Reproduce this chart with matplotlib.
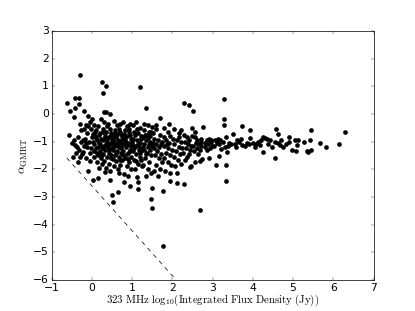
import numpy as np
import matplotlib
matplotlib.use('Agg')
import matplotlib.pyplot as plt

flux_pts = [
    # x < -0.25
    (-0.63, 0.38), (-0.42, 0.58), (-0.32, 0.58), (-0.33, 0.35), (-0.42, 0.22), (-0.54, 0.11),
    (-0.29, 1.39), (-0.46, -0.13), (-0.58, -0.78), (-0.46, -0.96), (-0.43, -1.14), (-0.38, -1.21),
    (-0.29, -0.35), (-0.50, -1.05), (-0.35, -0.85), (-0.28, -0.60), (-0.40, -1.40), (-0.32, -1.30),
    (-0.27, -1.00), (-0.30, -1.55), (-0.47, -1.57), (-0.36, -1.75),
    # -0.25 .. 0
    (-0.19, 0.10), (-0.11, -0.08), (-0.17, -0.90), (-0.25, -1.45), (-0.22, -1.38), (-0.09, -2.06),
    (-0.20, -0.55), (-0.15, -0.40), (-0.05, -0.30), (-0.12, -0.70), (-0.08, -1.00), (-0.20, -1.15),
    (-0.03, -1.25), (-0.15, -1.60), (-0.05, -1.70), (-0.10, -0.45), (0.00, -0.85), (-0.02, -0.55),
    (-0.22, -0.95), (-0.12, -1.20),
    # 0 .. 0.25
    (0.01, -0.17), (0.23, -0.20), (0.03, -2.39), (0.15, -2.30), (0.25, -1.81), (0.05, -0.40),
    (0.10, -0.60), (0.15, -0.45), (0.20, -0.70), (0.08, -0.80), (0.12, -0.95), (0.18, -1.05),
    (0.22, -0.90), (0.05, -1.10), (0.10, -1.25), (0.20, -1.35), (0.15, -1.50), (0.05, -1.55),
    (0.22, -1.60), (0.12, -1.75), (0.18, -1.95), (0.02, -1.00), (0.24, -1.20), (0.16, -0.75),
    (0.07, -0.65), (0.20, -1.10), (0.13, -1.40),
    # 0.25 .. 0.5
    (0.25, 1.15), (0.35, 1.02), (0.27, 0.77), (0.29, 0.07), (0.35, 0.05), (0.45, -0.02),
    (0.45, -2.39), (0.49, -2.95), (0.53, -3.18), (0.30, -0.30), (0.40, -0.35), (0.28, -0.55),
    (0.35, -0.65), (0.45, -0.55), (0.32, -0.80), (0.42, -0.85), (0.48, -0.75), (0.27, -0.95),
    (0.38, -1.00), (0.47, -1.05), (0.30, -1.15), (0.40, -1.20), (0.50, -1.25), (0.33, -1.30),
    (0.43, -1.40), (0.28, -1.45), (0.37, -1.55), (0.47, -1.60), (0.30, -1.70), (0.42, -1.80),
    (0.35, -1.95), (0.45, -2.05), (0.38, -0.90), (0.27, -1.25), (0.44, -1.10), (0.36, -0.45),
    (0.49, -0.95), (0.31, -2.10),
    # 0.5 .. 0.75
    (0.65, -2.81), (0.66, -2.12), (0.55, -0.25), (0.62, -0.40), (0.70, -0.35), (0.58, -0.60),
    (0.68, -0.55), (0.52, -0.80), (0.60, -0.85), (0.72, -0.75), (0.55, -1.00), (0.65, -0.95),
    (0.73, -1.05), (0.58, -1.15), (0.68, -1.20), (0.52, -1.30), (0.62, -1.35), (0.72, -1.40),
    (0.56, -1.50), (0.66, -1.55), (0.74, -1.65), (0.60, -1.70), (0.70, -1.85), (0.55, -1.90),
    (0.64, -2.00), (0.72, -1.25), (0.63, -1.08), (0.57, -0.70), (0.70, -0.65), (0.53, -1.62),
    (0.75, -0.90),
    # 0.75 .. 1.0
    (0.80, -2.48), (0.79, -2.18), (0.94, -2.60), (0.78, -0.30), (0.88, -0.45), (0.95, -0.35),
    (0.82, -0.60), (0.92, -0.65), (0.77, -0.85), (0.87, -0.80), (0.97, -0.90), (0.80, -1.00),
    (0.90, -1.05), (0.98, -1.15), (0.84, -1.20), (0.94, -1.30), (0.78, -1.35), (0.88, -1.45),
    (0.96, -1.55), (0.82, -1.60), (0.92, -1.75), (0.86, -1.90), (0.98, -2.00), (0.76, -1.10),
    (0.93, -0.55), (0.85, -1.00), (0.90, -2.25),
    # 1.0 .. 1.25
    (1.18, 0.98), (1.15, -2.72), (1.13, -2.48), (1.11, -2.28), (1.02, -0.40), (1.10, -0.30),
    (1.20, -0.50), (1.05, -0.65), (1.15, -0.70), (1.22, -0.80), (1.03, -0.90), (1.12, -0.95),
    (1.20, -1.05), (1.07, -1.15), (1.17, -1.20), (1.24, -1.30), (1.02, -1.35), (1.10, -1.45),
    (1.20, -1.55), (1.05, -1.65), (1.15, -1.80), (1.23, -1.90), (1.08, -2.00), (1.18, -1.40),
    (1.12, -0.55), (1.00, -1.10), (1.22, -1.65),
    # 1.25 .. 1.5
    (1.35, 0.20), (1.49, -0.48), (1.41, -0.66), (1.46, -3.09), (1.50, -3.40), (1.48, -2.67),
    (1.28, -0.35), (1.38, -0.40), (1.30, -0.60), (1.45, -0.80), (1.27, -0.85), (1.35, -0.95),
    (1.43, -1.00), (1.30, -1.10), (1.40, -1.20), (1.48, -1.15), (1.28, -1.30), (1.37, -1.40),
    (1.46, -1.50), (1.32, -1.60), (1.42, -1.75), (1.27, -1.85), (1.38, -2.00), (1.47, -2.15),
    (1.33, -2.25), (1.44, -1.30), (1.36, -0.75),
    # 1.5 .. 1.75
    (1.70, -0.15), (1.52, -0.70), (1.60, -0.55), (1.68, -0.75), (1.55, -0.90), (1.65, -0.95),
    (1.73, -1.00), (1.58, -1.10), (1.67, -1.20), (1.53, -1.25), (1.62, -1.35), (1.72, -1.45),
    (1.57, -1.50), (1.66, -1.60), (1.74, -1.75), (1.60, -1.85), (1.70, -2.00), (1.55, -2.05),
    (1.65, -2.25), (1.58, -0.40), (1.72, -1.10),
    # 1.75 .. 2.0
    (1.76, -2.79), (1.76, -4.76), (1.94, -2.42), (1.91, -0.35), (1.80, -0.50), (1.88, -0.65),
    (1.95, -0.80), (1.78, -0.85), (1.85, -0.95), (1.92, -1.05), (1.80, -1.15), (1.90, -1.25),
    (1.98, -1.30), (1.83, -1.40), (1.93, -1.50), (1.78, -1.60), (1.88, -1.75), (1.97, -1.85),
    (1.82, -2.05), (1.95, -2.15), (1.86, -1.10),
    # 2.0 .. 2.25
    (2.11, -2.51), (2.12, -2.12), (2.05, -0.55), (2.15, -0.70), (2.22, -0.60), (2.02, -0.90),
    (2.10, -0.95), (2.20, -1.00), (2.05, -1.10), (2.15, -1.20), (2.23, -1.25), (2.08, -1.35),
    (2.18, -1.45), (2.03, -1.55), (2.13, -1.65), (2.21, -1.80), (2.06, -1.90), (2.17, -0.85),
    # 2.25 .. 2.5
    (2.29, 0.39), (2.41, 0.32), (2.50, 0.10), (2.29, -2.52), (2.44, -1.91), (2.41, -1.45),
    (2.45, -1.87), (2.49, -0.50), (2.28, -0.75), (2.35, -0.85), (2.42, -0.95), (2.30, -1.00),
    (2.38, -1.10), (2.47, -1.15), (2.33, -1.25), (2.43, -1.30), (2.27, -1.40), (2.36, -1.55),
    (2.48, -0.80), (2.32, -1.65),
    # 2.5 .. 2.75
    (2.69, -3.47), (2.69, -1.72), (2.57, -1.75), (2.74, -1.63), (2.57, -0.66), (2.76, -0.48),
    (2.55, -0.85), (2.62, -0.95), (2.70, -0.90), (2.58, -1.05), (2.66, -1.10), (2.72, -1.15),
    (2.60, -1.25), (2.68, -1.30), (2.54, -1.35), (2.64, -1.45), (2.70, -1.00), (2.52, -1.15),
    # 2.75 .. 3.0
    (2.85, -0.96), (2.92, -1.61), (2.80, -1.20), (2.90, -0.90), (2.95, -1.00), (2.88, -1.10),
    (2.98, -1.15), (2.82, -1.05), (2.93, -1.25), (2.86, -1.30), (2.97, -0.95),
    # 3.0 .. 3.5
    (3.29, 0.55), (3.28, -0.20), (3.28, -0.41), (3.08, -1.83), (3.16, -1.51), (3.33, -1.84),
    (3.33, -2.42), (3.36, -1.36), (3.32, -0.84), (3.50, -0.74), (3.05, -0.96), (3.21, -1.28),
    (3.10, -1.05), (3.15, -1.10), (3.03, -1.15), (3.12, -0.90), (3.40, -1.05), (3.45, -1.10),
    (3.38, -1.15), (3.25, -1.00), (3.30, -1.20), (3.18, -0.95),
    # 3.5 .. 4.0
    (3.60, -0.94), (3.74, -0.45), (3.93, -0.60), (3.74, -1.11), (3.85, -1.05), (3.93, -0.86),
    (4.00, -1.06), (3.65, -1.00), (3.55, -1.10), (3.80, -1.15), (3.70, -0.90), (3.90, -1.10),
    (3.58, -1.20),
    # 4.0 .. 4.5
    (4.08, -1.08), (4.18, -1.11), (4.25, -0.82), (4.25, -1.39), (4.30, -0.88), (4.35, -0.92),
    (4.42, -0.95), (4.47, -1.18), (4.12, -1.00), (4.20, -0.95), (4.38, -1.10), (4.05, -1.20),
    # 4.5 .. 5.0
    (4.57, -0.56), (4.63, -0.74), (4.90, -0.82), (4.56, -1.61), (4.68, -1.14), (4.76, -1.18),
    (4.91, -1.02), (4.97, -1.30), (4.55, -1.00), (4.62, -1.05), (4.82, -1.10), (4.70, -0.95),
    # 5.0 .. 5.5
    (5.05, -0.96), (5.06, -1.33), (5.10, -1.14), (5.27, -1.02), (5.37, -1.39), (5.45, -1.29),
    (5.43, -0.94), (5.45, -0.57), (5.11, -0.94), (5.34, -1.33),
    # > 5.5
    (5.68, -1.06), (5.83, -1.21), (6.14, -1.08), (6.28, -0.67),
    # extra sources in the crowded core (0 .. 1.5)
    (0.03, -0.72), (0.09, -0.88), (0.14, -1.18), (0.19, -1.45), (0.26, -0.65), (0.31, -0.88),
    (0.34, -1.08), (0.41, -1.32), (0.46, -0.68), (0.51, -0.95), (0.54, -1.12), (0.59, -1.42),
    (0.61, -0.72), (0.67, -1.02), (0.71, -1.15), (0.76, -1.48), (0.79, -0.72), (0.83, -0.92),
    (0.86, -1.12), (0.91, -1.38), (0.95, -0.78), (0.99, -1.02), (1.04, -1.25), (1.08, -0.78),
    (1.13, -1.08), (1.16, -1.32), (1.21, -0.92), (1.26, -1.18), (1.31, -0.78), (1.33, -1.45),
    (1.39, -0.88), (1.42, -1.08), (1.47, -0.65), (1.52, -1.05), (-0.05, -1.40), (-0.14, -1.05),
    (0.06, -1.35), (0.24, -1.48), (0.48, -1.48), (0.69, -1.68), (0.89, -1.62), (1.09, -1.72),
]
log_flux = [p[0] for p in flux_pts]
alpha = [p[1] for p in flux_pts]

# detection limit line
limit_x = [-0.63, 2.09]
limit_y = [-1.59, -6.0]

plt.style.use('classic')
plt.rcParams['mathtext.fontset'] = 'cm'
plt.rcParams['font.size'] = 15

fig, ax = plt.subplots(figsize=(8, 6), dpi=51.875)
fig.subplots_adjust(left=0.125, right=0.9, bottom=0.1, top=0.9)

ax.plot(log_flux, alpha, 'ko', markersize=6.5, markeredgewidth=0)
ax.plot(limit_x, limit_y, 'k--', linewidth=1)

ax.set_xlim(-1, 7)
ax.set_ylim(-6, 3)
ax.set_xlabel(r'$\mathrm{323\ MHz\ log_{10}(Integrated\ Flux\ Density\ (Jy))}$',
              fontsize=15, labelpad=-1)
ax.set_ylabel(r'$\alpha_{\rm GMRT}$', fontsize=17)

fig.savefig('out.png', dpi=51.875, facecolor='white')
